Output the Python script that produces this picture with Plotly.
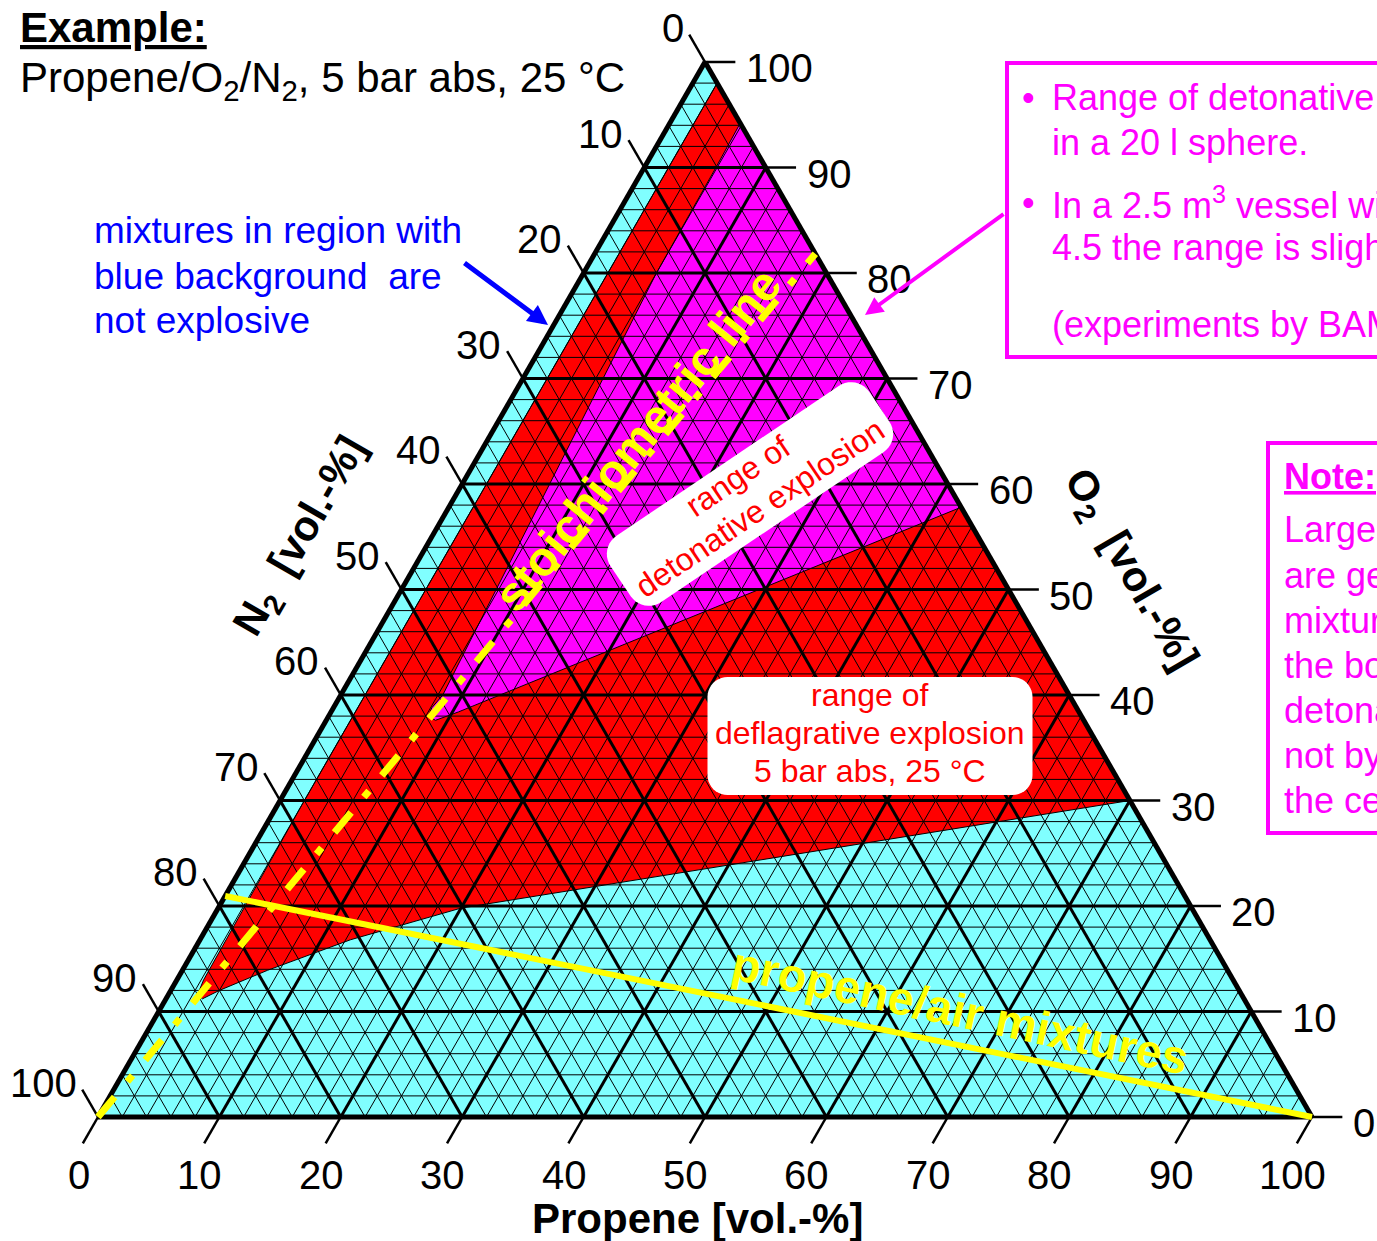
import numpy as np
import plotly.graph_objects as go

# ---------------- data (vol.-%) ----------------
tick_values = [0, 10, 20, 30, 40, 50, 60, 70, 80, 90, 100]
tick_labels = ["0", "10", "20", "30", "40", "50", "60", "70", "80", "90", "100"]
major_values = [10, 20, 30, 40, 50, 60, 70, 80, 90]
minor_values = [v for v in range(2, 100, 2) if v % 10]

# range of deflagrative explosion (boundary: propene, O2)
red_propene = [2.0, 70.0, 20.0, 12.4, 7.0, 4.0, 3.0, 2.4, 2.2, 2.0, 2.0]
red_o2 = [98.0, 30.0, 19.8, 16.8, 13.9, 12.0, 11.2, 11.6, 13.0, 30.0, 98.0]

# range of detonative explosion (boundary: propene, O2)
det_propene = [5.8, 42.2, 10.5, 9.0, 8.2, 8.1, 8.4, 7.8, 7.2, 6.6, 6.0, 5.9, 5.8]
det_o2 = [94.2, 57.8, 38.4, 37.6, 38.0, 38.8, 40.0, 50.0, 60.0, 70.0, 80.0, 90.0, 94.2]

# stoichiometric line and propene/air line
stoich_propene = [0.0, 18.18]
stoich_o2 = [0.0, 81.82]
air_propene = [0.0, 100.0]
air_o2 = [20.95, 0.0]

# ---------------- geometry ----------------
W, H = 1377, 1241
PX0, PY0 = 98.0, 1117.0      # pixel of the 100 % N2 corner
SX, SY = 12.14, 10.55        # pixels per % (X) and per % O2 (Y)
FONT = "Liberation Sans, Arial, Helvetica, sans-serif"
CYAN, RED, MAG, YEL = "#80FFFF", "#FF0000", "#FF00FF", "#FFFF00"


def tern(c, a):
    c = np.asarray(c, float)
    a = np.asarray(a, float)
    return c + a / 2.0, a


def pp(px, py):
    return px / W, 1.0 - py / H


fig = go.Figure()


def add_lines(segs, color, width, dash=None):
    xs, ys = [], []
    for (c0, a0, c1, a1) in segs:
        x, y = tern([c0, c1], [a0, a1])
        xs += list(x) + [None]
        ys += list(y) + [None]
    line = dict(color=color, width=width)
    if dash:
        line["dash"] = dash
    fig.add_trace(go.Scatter(x=xs, y=ys, mode="lines", line=line,
                             hoverinfo="skip", showlegend=False))


def add_poly(c, a, fill, lw):
    x, y = tern(c, a)
    fig.add_trace(go.Scatter(x=x, y=y, mode="lines", fill="toself", fillcolor=fill,
                             line=dict(color="black", width=lw),
                             hoverinfo="skip", showlegend=False))


def iso_segs(values):
    segs = []
    for v in values:
        segs.append((0, v, 100 - v, v))          # constant O2
        segs.append((v, 0, v, 100 - v))          # constant propene
        segs.append((100 - v, 0, 0, 100 - v))    # constant N2
    return segs


lo, hi = tick_values[0], tick_values[-1]
# background triangle
bx, by = tern([lo, hi, lo, lo], [lo, lo, hi, lo])
fig.add_trace(go.Scatter(x=bx, y=by, mode="lines", fill="toself", fillcolor=CYAN,
                         line=dict(width=0), hoverinfo="skip", showlegend=False))
add_poly(red_propene, red_o2, RED, 1)
add_poly(det_propene, det_o2, MAG, 1)
add_lines(iso_segs(minor_values), "black", 1)
add_lines(iso_segs(major_values), "black", 3)

# tick marks
TB, TL, TR = 2.5, 2.6, 2.5
tsegs = []
for v in tick_values:
    tsegs.append((v, 0, v, -TB))                       # propene (bottom)
    tsegs.append((0, 100 - v, -TL, 100 - v + TL))      # N2 (left)
    tsegs.append((100 - v, v, 100 - v + TR, v))        # O2 (right)
add_lines(tsegs, "black", 2.5)
# border
add_lines([(lo, lo, hi, lo), (hi, lo, lo, hi), (lo, hi, lo, lo)], "black", 5)

# yellow lines
xa, ya = tern(air_propene, air_o2)
fig.add_trace(go.Scatter(x=xa, y=ya, mode="lines", line=dict(color=YEL, width=6),
                         hoverinfo="skip", showlegend=False))
xs_, ys_ = tern(stoich_propene, stoich_o2)
fig.add_trace(go.Scatter(x=xs_, y=ys_, mode="lines",
                         line=dict(color=YEL, width=7, dash="26px,20px,8px,20px"),
                         hoverinfo="skip", showlegend=False))

ann = []
TF = 40
for v, lab in zip(tick_values, tick_labels):
    x, y = tern(v, 0)
    ann.append(dict(x=float(x) - 1.6, y=-5.5, xref="x", yref="y", text=lab, showarrow=False,
                    xanchor="center", yanchor="middle", font=dict(size=TF, color="black")))
    x, y = tern(0, 100 - v)
    ann.append(dict(x=float(x) - 1.6, y=float(y) + 3.2, xref="x", yref="y", text=lab,
                    showarrow=False, xanchor="right", yanchor="middle",
                    font=dict(size=TF, color="black")))
    x, y = tern(100 - v, v)
    ann.append(dict(x=float(x) + 3.2, y=float(y) - 0.6, xref="x", yref="y", text=lab,
                    showarrow=False, xanchor="left", yanchor="middle",
                    font=dict(size=TF, color="black")))


def txt(text, px, py, size, color="black", xanchor="center", angle=0):
    x, y = pp(px, py)
    ann.append(dict(x=x, y=y, xref="paper", yref="paper", text=text, showarrow=False,
                    xanchor=xanchor, yanchor="middle", textangle=angle,
                    font=dict(size=size, color=color, family=FONT)))


# axis titles
txt("<b>Propene [vol.-%]</b>", 697, 1218, 42)
txt("<b>N<sub>2</sub>\u00a0 [vol.-%]</b>", 302, 537, 42, angle=-60)
txt("<b>O<sub>2</sub>\u00a0 [vol.-%]</b>", 1130, 570, 42, angle=60)

# heading
txt("<b><u>Example:</u></b>", 18, 28, 42, xanchor="left")
txt("Propene/O<sub>2</sub>/N<sub>2</sub>, 5 bar abs, 25 °C", 18, 80, 42, xanchor="left")

# blue note
for i, line in enumerate(["mixtures in region with", "blue background\u00a0 are",
                          "not explosive"]):
    txt(line, 92, 231 + 45 * i, 37, color="#0000FF", xanchor="left")

# in-plot labels
txt("<b>stoichiometric line</b>", 638, 440, 48, color=YEL, angle=-51)
txt("<b>propene/air mixtures</b>", 960, 1010, 47, color=YEL, angle=12)

# right magenta box text
txt("\u2022", 1028, 98, 36, color=MAG)
txt("\u2022", 1028, 203, 36, color=MAG)
box_lines = [("Range of detonative mixtures", 98), ("in a 20 l sphere.", 142),
             ("In a 2.5 m<sup>3</sup> vessel with", 203), ("4.5 the range is slightly larger", 247),
             ("(experiments by BAM)", 325)]
for t, yy in box_lines:
    txt(t, 1050, yy, 36, color=MAG, xanchor="left")

txt("<b><u>Note:</u></b>", 1282, 476, 36, color=MAG, xanchor="left")
for i, t in enumerate(["Larger vessels", "are generally", "mixtures", "the boundary",
                       "detonation", "not by", "the cell size"]):
    txt(t, 1282, 530 + 45 * i, 36, color=MAG, xanchor="left")

# deflagrative label
for t, yy in [("range of", 695), ("deflagrative explosion", 733), ("5 bar abs, 25 °C", 771)]:
    txt(t, 870, yy, 32, color=RED)

# detonative label (rotated)
txt("range of", 738, 476, 32, color=RED, angle=-34)
txt("detonative explosion", 760, 508, 32, color=RED, angle=-34)

# arrows
x, y = pp(548, 325)
ann.append(dict(x=x, y=y, xref="paper", yref="paper", text="", showarrow=True,
                ax=-85, ay=-63, arrowcolor="#0000FF", arrowwidth=5, arrowhead=2, arrowsize=0.8))
x, y = pp(865, 315)
ann.append(dict(x=x, y=y, xref="paper", yref="paper", text="", showarrow=True,
                ax=140, ay=-102, arrowcolor=MAG, arrowwidth=4, arrowhead=2, arrowsize=0.9))


def rounded_box(cx, cy, w, h, r, ang, n=10):
    pts = []
    cs = [(w / 2 - r, -h / 2 + r, -90), (w / 2 - r, h / 2 - r, 0),
          (-w / 2 + r, h / 2 - r, 90), (-w / 2 + r, -h / 2 + r, 180)]
    for (ux, vy, t0) in cs:
        for k in range(n + 1):
            t = np.radians(t0 + 90 * k / n)
            pts.append((ux + r * np.cos(t), vy + r * np.sin(t)))
    al = np.radians(ang)
    out = []
    for (u, v) in pts:
        px = cx + u * np.cos(al) + v * np.sin(al)
        py = cy - u * np.sin(al) + v * np.cos(al)
        out.append(pp(px, py))
    return "M " + " L ".join(f"{a:.5f},{b:.5f}" for a, b in out) + " Z"


shapes = [
    dict(type="path", xref="paper", yref="paper", path=rounded_box(870, 736, 325, 118, 20, 0),
         fillcolor="white", line=dict(width=0), layer="above"),
    dict(type="path", xref="paper", yref="paper", path=rounded_box(750, 494, 312, 80, 22, 34),
         fillcolor="white", line=dict(width=0), layer="above"),
    dict(type="rect", xref="paper", yref="paper", x0=1007 / W, x1=1.05,
         y0=1 - 357 / H, y1=1 - 63 / H, line=dict(color=MAG, width=4), layer="above"),
    dict(type="rect", xref="paper", yref="paper", x0=1268 / W, x1=1.05,
         y0=1 - 833 / H, y1=1 - 443 / H, line=dict(color=MAG, width=4), layer="above"),
]

fig.update_layout(
    width=W, height=H, margin=dict(l=0, r=0, t=0, b=0),
    paper_bgcolor="white", plot_bgcolor="white", showlegend=False,
    font=dict(family=FONT, color="black"),
    xaxis=dict(range=[-PX0 / SX, (W - PX0) / SX], visible=False, fixedrange=True),
    yaxis=dict(range=[(PY0 - H) / SY, PY0 / SY], visible=False, fixedrange=True),
    annotations=ann, shapes=shapes,
)
fig.write_html("out.html", config={"displayModeBar": False},
               post_script="document.body.style.margin='0px';document.body.style.padding='0px';"
                           "document.body.style.overflow='hidden';")
